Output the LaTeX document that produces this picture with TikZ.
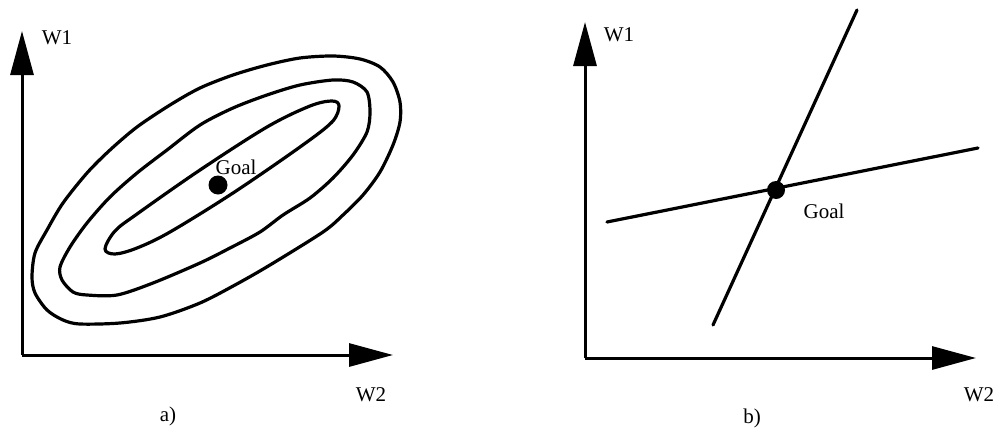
\documentclass[tikz,border=0pt]{standalone}
\usepackage{fontspec}
\setmainfont{Liberation Serif}
\usetikzlibrary{arrows.meta}
\begin{document}
\begin{tikzpicture}[x=1pt,y=-1pt,
  axis/.style={line width=3pt,-{Triangle[width=23pt,length=44pt]}},
  curve/.style={line width=3.2pt,line join=round,line cap=round},
  lbl/.style={font=\fontsize{21}{23}\selectfont,inner sep=0pt},
  goaldot/.style={circle,fill=black,inner sep=0pt,minimum size=19pt}]
\useasboundingbox (0,0) rectangle (1001,434);
% ---------- panel a ----------
\coordinate (aO) at (22,355);
\coordinate (aY) at (22,31);
\coordinate (aX) at (393,355);
\draw[axis] (aO) -- (aY);
\draw[axis] (aO) -- (aX);
\node[lbl] (aW1) at (57,38) {W1};
\node[lbl] (aW2) at (371,395) {W2};
\node[lbl] (alab) at (168,416) {a)};
% outer contour
\draw[curve] plot[smooth cycle,tension=0.5] coordinates {
 (32,277) (35,253) (47,230) (63,203) (87,173) (110,150) (137,127) (170,105)
 (200,88) (233,75) (267,65) (300,58) (333,56) (360,59) (380,67) (393,82)
 (400,102) (400,122) (393,145) (380,172) (363,195) (343,215) (323,232)
 (270,265) (235,285) (200,303) (160,317) (120,323) (80,324) (63,320)
 (47,310) (35,293)};
% middle contour
\draw[curve] plot[smooth cycle,tension=0.5] coordinates {
 (60,267) (70,247) (87,223) (110,197) (137,173) (167,150) (200,125)
 (233,108) (267,95) (300,85) (333,80) (353,82) (367,92) (370,112)
 (367,132) (353,155) (333,178) (310,198) (283,215) (260,232) (230,248)
 (200,263) (153,283) (117,295) (87,295) (73,292) (62,280)};
% inner contour
\draw[curve] plot[smooth cycle,tension=0.55] coordinates {
 (105,249) (115,231) (137,214) (200,170) (267,127) (310,106) (332,101)
 (339,106) (332,122) (300,147) (233,193) (170,232) (137,248) (115,254)};
\node[goaldot] (aG) at (218,185) {};
\node[lbl] (aGoal) at (236,167) {Goal};
% ---------- panel b ----------
\coordinate (bO) at (585,358);
\coordinate (bY) at (585,22);
\coordinate (bX) at (976,358);
\draw[axis] (bO) -- (bY);
\draw[axis] (bO) -- (bX);
\node[lbl] (bW1) at (619,35) {W1};
\node[lbl] (bW2) at (979,395) {W2};
\node[lbl] (blab) at (752,418) {b)};
\coordinate (s1) at (713,325);
\coordinate (s2) at (857,10);
\coordinate (h1) at (607,222);
\coordinate (h2) at (978,148);
\draw[curve] (s1) -- (s2);
\draw[curve] (h1) -- (h2);
\node[goaldot,minimum size=18pt] (bG) at (776,190) {};
\node[lbl] (bGoal) at (824,211) {Goal};
\end{tikzpicture}
\end{document}
